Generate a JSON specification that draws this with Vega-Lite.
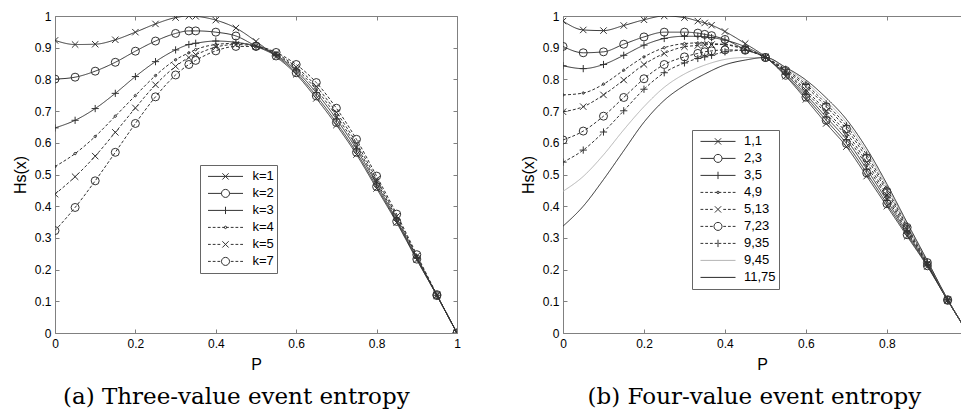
{
  "$schema": "https://vega.github.io/schema/vega-lite/v6.json",
  "background": "white",
  "padding": {"left": 12, "top": 10, "right": 0, "bottom": 0},
  "spacing": 59,
  "config": {
    "view": {"stroke": null},
    "font": "Liberation Sans",
    "axis": {
      "grid": false, "domainColor": "#808080", "tickColor": "#808080", "tickSize": -4,
      "labelColor": "#000", "labelFont": "Liberation Sans", "labelFontSize": 12, "labelFlush": false,
      "titleFont": "Liberation Sans", "titleFontSize": 16, "titleFontWeight": "normal", "titleColor": "#000",
      "domainWidth": 1, "tickWidth": 1, "labelOverlap": false
    },
    "title": {"font": "DejaVu Serif", "fontSize": 23, "fontWeight": "normal", "color": "#000", "orient": "bottom", "anchor": "middle", "offset": 14, "frame": "bounds"}
  },
  "resolve": {"scale": {"x": "independent", "y": "independent", "shape": "independent", "strokeDash": "independent", "color": "independent"}, "legend": {"shape": "independent", "color": "independent"}},
  "datasets": {
    "three": [
      {"P":0,"H":0.923,"s":"k=1"},{"P":0.05,"H":0.910,"s":"k=1"},{"P":0.1,"H":0.911,"s":"k=1"},{"P":0.15,"H":0.925,"s":"k=1"},{"P":0.2,"H":0.949,"s":"k=1"},{"P":0.25,"H":0.975,"s":"k=1"},{"P":0.3,"H":0.995,"s":"k=1"},{"P":0.333,"H":1.0,"s":"k=1"},{"P":0.35,"H":0.999,"s":"k=1"},{"P":0.4,"H":0.987,"s":"k=1"},{"P":0.45,"H":0.962,"s":"k=1"},{"P":0.5,"H":0.920,"s":"k=1"},{"P":0.55,"H":0.872,"s":"k=1"},{"P":0.6,"H":0.816,"s":"k=1"},{"P":0.65,"H":0.740,"s":"k=1"},{"P":0.7,"H":0.656,"s":"k=1"},{"P":0.75,"H":0.563,"s":"k=1"},{"P":0.8,"H":0.456,"s":"k=1"},{"P":0.85,"H":0.348,"s":"k=1"},{"P":0.9,"H":0.231,"s":"k=1"},{"P":0.95,"H":0.118,"s":"k=1"},{"P":1,"H":0,"s":"k=1"},
      {"P":0,"H":0.801,"s":"k=2"},{"P":0.05,"H":0.807,"s":"k=2"},{"P":0.1,"H":0.826,"s":"k=2"},{"P":0.15,"H":0.854,"s":"k=2"},{"P":0.2,"H":0.889,"s":"k=2"},{"P":0.25,"H":0.921,"s":"k=2"},{"P":0.3,"H":0.945,"s":"k=2"},{"P":0.333,"H":0.953,"s":"k=2"},{"P":0.35,"H":0.953,"s":"k=2"},{"P":0.4,"H":0.949,"s":"k=2"},{"P":0.45,"H":0.937,"s":"k=2"},{"P":0.5,"H":0.905,"s":"k=2"},{"P":0.55,"H":0.874,"s":"k=2"},{"P":0.6,"H":0.821,"s":"k=2"},{"P":0.65,"H":0.748,"s":"k=2"},{"P":0.7,"H":0.664,"s":"k=2"},{"P":0.75,"H":0.570,"s":"k=2"},{"P":0.8,"H":0.462,"s":"k=2"},{"P":0.85,"H":0.352,"s":"k=2"},{"P":0.9,"H":0.233,"s":"k=2"},{"P":0.95,"H":0.118,"s":"k=2"},{"P":1,"H":0,"s":"k=2"},
      {"P":0,"H":0.647,"s":"k=3"},{"P":0.05,"H":0.671,"s":"k=3"},{"P":0.1,"H":0.708,"s":"k=3"},{"P":0.15,"H":0.756,"s":"k=3"},{"P":0.2,"H":0.809,"s":"k=3"},{"P":0.25,"H":0.856,"s":"k=3"},{"P":0.3,"H":0.893,"s":"k=3"},{"P":0.333,"H":0.910,"s":"k=3"},{"P":0.35,"H":0.914,"s":"k=3"},{"P":0.4,"H":0.921,"s":"k=3"},{"P":0.45,"H":0.917,"s":"k=3"},{"P":0.5,"H":0.905,"s":"k=3"},{"P":0.55,"H":0.877,"s":"k=3"},{"P":0.6,"H":0.827,"s":"k=3"},{"P":0.65,"H":0.758,"s":"k=3"},{"P":0.7,"H":0.675,"s":"k=3"},{"P":0.75,"H":0.580,"s":"k=3"},{"P":0.8,"H":0.470,"s":"k=3"},{"P":0.85,"H":0.357,"s":"k=3"},{"P":0.9,"H":0.237,"s":"k=3"},{"P":0.95,"H":0.119,"s":"k=3"},{"P":1,"H":0,"s":"k=3"},
      {"P":0,"H":0.525,"s":"k=4"},{"P":0.05,"H":0.566,"s":"k=4"},{"P":0.1,"H":0.620,"s":"k=4"},{"P":0.15,"H":0.684,"s":"k=4"},{"P":0.2,"H":0.749,"s":"k=4"},{"P":0.25,"H":0.812,"s":"k=4"},{"P":0.3,"H":0.862,"s":"k=4"},{"P":0.333,"H":0.884,"s":"k=4"},{"P":0.35,"H":0.894,"s":"k=4"},{"P":0.4,"H":0.910,"s":"k=4"},{"P":0.45,"H":0.914,"s":"k=4"},{"P":0.5,"H":0.905,"s":"k=4"},{"P":0.55,"H":0.879,"s":"k=4"},{"P":0.6,"H":0.833,"s":"k=4"},{"P":0.65,"H":0.768,"s":"k=4"},{"P":0.7,"H":0.685,"s":"k=4"},{"P":0.75,"H":0.589,"s":"k=4"},{"P":0.8,"H":0.477,"s":"k=4"},{"P":0.85,"H":0.363,"s":"k=4"},{"P":0.9,"H":0.240,"s":"k=4"},{"P":0.95,"H":0.119,"s":"k=4"},{"P":1,"H":0,"s":"k=4"},
      {"P":0,"H":0.438,"s":"k=5"},{"P":0.05,"H":0.493,"s":"k=5"},{"P":0.1,"H":0.558,"s":"k=5"},{"P":0.15,"H":0.633,"s":"k=5"},{"P":0.2,"H":0.710,"s":"k=5"},{"P":0.25,"H":0.783,"s":"k=5"},{"P":0.3,"H":0.841,"s":"k=5"},{"P":0.333,"H":0.869,"s":"k=5"},{"P":0.35,"H":0.878,"s":"k=5"},{"P":0.4,"H":0.902,"s":"k=5"},{"P":0.45,"H":0.910,"s":"k=5"},{"P":0.5,"H":0.905,"s":"k=5"},{"P":0.55,"H":0.882,"s":"k=5"},{"P":0.6,"H":0.839,"s":"k=5"},{"P":0.65,"H":0.778,"s":"k=5"},{"P":0.7,"H":0.696,"s":"k=5"},{"P":0.75,"H":0.599,"s":"k=5"},{"P":0.8,"H":0.485,"s":"k=5"},{"P":0.85,"H":0.368,"s":"k=5"},{"P":0.9,"H":0.243,"s":"k=5"},{"P":0.95,"H":0.120,"s":"k=5"},{"P":1,"H":0,"s":"k=5"},
      {"P":0,"H":0.323,"s":"k=7"},{"P":0.05,"H":0.396,"s":"k=7"},{"P":0.1,"H":0.480,"s":"k=7"},{"P":0.15,"H":0.570,"s":"k=7"},{"P":0.2,"H":0.661,"s":"k=7"},{"P":0.25,"H":0.745,"s":"k=7"},{"P":0.3,"H":0.814,"s":"k=7"},{"P":0.333,"H":0.847,"s":"k=7"},{"P":0.35,"H":0.860,"s":"k=7"},{"P":0.4,"H":0.890,"s":"k=7"},{"P":0.45,"H":0.904,"s":"k=7"},{"P":0.5,"H":0.904,"s":"k=7"},{"P":0.55,"H":0.885,"s":"k=7"},{"P":0.6,"H":0.847,"s":"k=7"},{"P":0.65,"H":0.790,"s":"k=7"},{"P":0.7,"H":0.709,"s":"k=7"},{"P":0.75,"H":0.611,"s":"k=7"},{"P":0.8,"H":0.495,"s":"k=7"},{"P":0.85,"H":0.375,"s":"k=7"},{"P":0.9,"H":0.247,"s":"k=7"},{"P":0.95,"H":0.121,"s":"k=7"},{"P":1,"H":0,"s":"k=7"}
    ],
    "four": [
      {"P":0,"H":0.984,"s":"1,1"},{"P":0.05,"H":0.956,"s":"1,1"},{"P":0.1,"H":0.954,"s":"1,1"},{"P":0.15,"H":0.970,"s":"1,1"},{"P":0.2,"H":0.988,"s":"1,1"},{"P":0.25,"H":1.0,"s":"1,1"},{"P":0.3,"H":0.995,"s":"1,1"},{"P":0.333,"H":0.984,"s":"1,1"},{"P":0.35,"H":0.978,"s":"1,1"},{"P":0.367,"H":0.971,"s":"1,1"},{"P":0.4,"H":0.951,"s":"1,1"},{"P":0.45,"H":0.913,"s":"1,1"},{"P":0.5,"H":0.871,"s":"1,1"},{"P":0.55,"H":0.810,"s":"1,1"},{"P":0.6,"H":0.737,"s":"1,1"},{"P":0.65,"H":0.661,"s":"1,1"},{"P":0.7,"H":0.588,"s":"1,1"},{"P":0.75,"H":0.495,"s":"1,1"},{"P":0.8,"H":0.400,"s":"1,1"},{"P":0.85,"H":0.305,"s":"1,1"},{"P":0.9,"H":0.210,"s":"1,1"},{"P":0.95,"H":0.103,"s":"1,1"},{"P":1,"H":0,"s":"1,1"},
      {"P":0,"H":0.904,"s":"2,3"},{"P":0.05,"H":0.884,"s":"2,3"},{"P":0.1,"H":0.887,"s":"2,3"},{"P":0.15,"H":0.911,"s":"2,3"},{"P":0.2,"H":0.934,"s":"2,3"},{"P":0.25,"H":0.949,"s":"2,3"},{"P":0.3,"H":0.949,"s":"2,3"},{"P":0.333,"H":0.946,"s":"2,3"},{"P":0.35,"H":0.942,"s":"2,3"},{"P":0.367,"H":0.938,"s":"2,3"},{"P":0.4,"H":0.926,"s":"2,3"},{"P":0.45,"H":0.894,"s":"2,3"},{"P":0.5,"H":0.869,"s":"2,3"},{"P":0.55,"H":0.813,"s":"2,3"},{"P":0.6,"H":0.744,"s":"2,3"},{"P":0.65,"H":0.671,"s":"2,3"},{"P":0.7,"H":0.598,"s":"2,3"},{"P":0.75,"H":0.505,"s":"2,3"},{"P":0.8,"H":0.408,"s":"2,3"},{"P":0.85,"H":0.310,"s":"2,3"},{"P":0.9,"H":0.212,"s":"2,3"},{"P":0.95,"H":0.103,"s":"2,3"},{"P":1,"H":0,"s":"2,3"},
      {"P":0,"H":0.843,"s":"3,5"},{"P":0.05,"H":0.834,"s":"3,5"},{"P":0.1,"H":0.847,"s":"3,5"},{"P":0.15,"H":0.876,"s":"3,5"},{"P":0.2,"H":0.908,"s":"3,5"},{"P":0.25,"H":0.929,"s":"3,5"},{"P":0.3,"H":0.936,"s":"3,5"},{"P":0.333,"H":0.936,"s":"3,5"},{"P":0.35,"H":0.934,"s":"3,5"},{"P":0.367,"H":0.932,"s":"3,5"},{"P":0.4,"H":0.924,"s":"3,5"},{"P":0.45,"H":0.903,"s":"3,5"},{"P":0.5,"H":0.869,"s":"3,5"},{"P":0.55,"H":0.817,"s":"3,5"},{"P":0.6,"H":0.752,"s":"3,5"},{"P":0.65,"H":0.681,"s":"3,5"},{"P":0.7,"H":0.610,"s":"3,5"},{"P":0.75,"H":0.517,"s":"3,5"},{"P":0.8,"H":0.418,"s":"3,5"},{"P":0.85,"H":0.316,"s":"3,5"},{"P":0.9,"H":0.215,"s":"3,5"},{"P":0.95,"H":0.104,"s":"3,5"},{"P":1,"H":0,"s":"3,5"},
      {"P":0,"H":0.751,"s":"4,9"},{"P":0.05,"H":0.757,"s":"4,9"},{"P":0.1,"H":0.785,"s":"4,9"},{"P":0.15,"H":0.829,"s":"4,9"},{"P":0.2,"H":0.871,"s":"4,9"},{"P":0.25,"H":0.900,"s":"4,9"},{"P":0.3,"H":0.913,"s":"4,9"},{"P":0.333,"H":0.915,"s":"4,9"},{"P":0.35,"H":0.915,"s":"4,9"},{"P":0.367,"H":0.913,"s":"4,9"},{"P":0.4,"H":0.910,"s":"4,9"},{"P":0.45,"H":0.894,"s":"4,9"},{"P":0.5,"H":0.869,"s":"4,9"},{"P":0.55,"H":0.821,"s":"4,9"},{"P":0.6,"H":0.760,"s":"4,9"},{"P":0.65,"H":0.692,"s":"4,9"},{"P":0.7,"H":0.621,"s":"4,9"},{"P":0.75,"H":0.528,"s":"4,9"},{"P":0.8,"H":0.427,"s":"4,9"},{"P":0.85,"H":0.321,"s":"4,9"},{"P":0.9,"H":0.217,"s":"4,9"},{"P":0.95,"H":0.104,"s":"4,9"},{"P":1,"H":0,"s":"4,9"},
      {"P":0,"H":0.698,"s":"5,13"},{"P":0.05,"H":0.714,"s":"5,13"},{"P":0.1,"H":0.751,"s":"5,13"},{"P":0.15,"H":0.798,"s":"5,13"},{"P":0.2,"H":0.847,"s":"5,13"},{"P":0.25,"H":0.882,"s":"5,13"},{"P":0.3,"H":0.903,"s":"5,13"},{"P":0.333,"H":0.907,"s":"5,13"},{"P":0.35,"H":0.909,"s":"5,13"},{"P":0.367,"H":0.910,"s":"5,13"},{"P":0.4,"H":0.910,"s":"5,13"},{"P":0.45,"H":0.896,"s":"5,13"},{"P":0.5,"H":0.869,"s":"5,13"},{"P":0.55,"H":0.824,"s":"5,13"},{"P":0.6,"H":0.767,"s":"5,13"},{"P":0.65,"H":0.701,"s":"5,13"},{"P":0.7,"H":0.631,"s":"5,13"},{"P":0.75,"H":0.539,"s":"5,13"},{"P":0.8,"H":0.435,"s":"5,13"},{"P":0.85,"H":0.327,"s":"5,13"},{"P":0.9,"H":0.219,"s":"5,13"},{"P":0.95,"H":0.105,"s":"5,13"},{"P":1,"H":0,"s":"5,13"},
      {"P":0,"H":0.609,"s":"7,23"},{"P":0.05,"H":0.637,"s":"7,23"},{"P":0.1,"H":0.684,"s":"7,23"},{"P":0.15,"H":0.743,"s":"7,23"},{"P":0.2,"H":0.802,"s":"7,23"},{"P":0.25,"H":0.847,"s":"7,23"},{"P":0.3,"H":0.871,"s":"7,23"},{"P":0.333,"H":0.882,"s":"7,23"},{"P":0.35,"H":0.887,"s":"7,23"},{"P":0.367,"H":0.890,"s":"7,23"},{"P":0.4,"H":0.893,"s":"7,23"},{"P":0.45,"H":0.892,"s":"7,23"},{"P":0.5,"H":0.869,"s":"7,23"},{"P":0.55,"H":0.828,"s":"7,23"},{"P":0.6,"H":0.777,"s":"7,23"},{"P":0.65,"H":0.714,"s":"7,23"},{"P":0.7,"H":0.644,"s":"7,23"},{"P":0.75,"H":0.552,"s":"7,23"},{"P":0.8,"H":0.446,"s":"7,23"},{"P":0.85,"H":0.333,"s":"7,23"},{"P":0.9,"H":0.222,"s":"7,23"},{"P":0.95,"H":0.105,"s":"7,23"},{"P":1,"H":0,"s":"7,23"},
      {"P":0,"H":0.539,"s":"9,35"},{"P":0.05,"H":0.577,"s":"9,35"},{"P":0.1,"H":0.634,"s":"9,35"},{"P":0.15,"H":0.701,"s":"9,35"},{"P":0.2,"H":0.769,"s":"9,35"},{"P":0.25,"H":0.821,"s":"9,35"},{"P":0.3,"H":0.852,"s":"9,35"},{"P":0.333,"H":0.866,"s":"9,35"},{"P":0.35,"H":0.871,"s":"9,35"},{"P":0.367,"H":0.876,"s":"9,35"},{"P":0.4,"H":0.887,"s":"9,35"},{"P":0.45,"H":0.892,"s":"9,35"},{"P":0.5,"H":0.869,"s":"9,35"},{"P":0.55,"H":0.832,"s":"9,35"},{"P":0.6,"H":0.784,"s":"9,35"},{"P":0.65,"H":0.723,"s":"9,35"},{"P":0.7,"H":0.654,"s":"9,35"},{"P":0.75,"H":0.562,"s":"9,35"},{"P":0.8,"H":0.454,"s":"9,35"},{"P":0.85,"H":0.338,"s":"9,35"},{"P":0.9,"H":0.224,"s":"9,35"},{"P":0.95,"H":0.105,"s":"9,35"},{"P":1,"H":0,"s":"9,35"},
      {"P":0,"H":0.447,"s":"9,45"},{"P":0.05,"H":0.494,"s":"9,45"},{"P":0.1,"H":0.562,"s":"9,45"},{"P":0.15,"H":0.641,"s":"9,45"},{"P":0.2,"H":0.714,"s":"9,45"},{"P":0.25,"H":0.775,"s":"9,45"},{"P":0.3,"H":0.817,"s":"9,45"},{"P":0.35,"H":0.845,"s":"9,45"},{"P":0.4,"H":0.863,"s":"9,45"},{"P":0.45,"H":0.869,"s":"9,45"},{"P":0.5,"H":0.869,"s":"9,45"},{"P":0.55,"H":0.835,"s":"9,45"},{"P":0.6,"H":0.791,"s":"9,45"},{"P":0.65,"H":0.732,"s":"9,45"},{"P":0.7,"H":0.664,"s":"9,45"},{"P":0.75,"H":0.572,"s":"9,45"},{"P":0.8,"H":0.462,"s":"9,45"},{"P":0.85,"H":0.343,"s":"9,45"},{"P":0.9,"H":0.226,"s":"9,45"},{"P":0.95,"H":0.106,"s":"9,45"},{"P":1,"H":0,"s":"9,45"},
      {"P":0,"H":0.337,"s":"11,75"},{"P":0.05,"H":0.400,"s":"11,75"},{"P":0.1,"H":0.484,"s":"11,75"},{"P":0.15,"H":0.575,"s":"11,75"},{"P":0.2,"H":0.665,"s":"11,75"},{"P":0.25,"H":0.734,"s":"11,75"},{"P":0.3,"H":0.781,"s":"11,75"},{"P":0.35,"H":0.817,"s":"11,75"},{"P":0.4,"H":0.846,"s":"11,75"},{"P":0.45,"H":0.861,"s":"11,75"},{"P":0.5,"H":0.869,"s":"11,75"},{"P":0.55,"H":0.838,"s":"11,75"},{"P":0.6,"H":0.798,"s":"11,75"},{"P":0.65,"H":0.742,"s":"11,75"},{"P":0.7,"H":0.674,"s":"11,75"},{"P":0.75,"H":0.582,"s":"11,75"},{"P":0.8,"H":0.470,"s":"11,75"},{"P":0.85,"H":0.348,"s":"11,75"},{"P":0.9,"H":0.228,"s":"11,75"},{"P":0.95,"H":0.106,"s":"11,75"},{"P":1,"H":0,"s":"11,75"}
    ]
  },
  "hconcat": [
    {
      "width": 402, "height": 317,
      "title": {"text": "(a) Three-value event entropy", "frame": "bounds"},
      "data": {"name": "three"},
      "layer": [
        {
          "mark": {"type": "line", "interpolate": "monotone", "strokeWidth": 1, "color": "#333", "clip": true},
          "encoding": {
            "x": {"field": "P", "type": "quantitative", "scale": {"domain": [0, 1], "nice": false, "zero": false},
                  "axis": {"values": [0, 0.2, 0.4, 0.6, 0.8, 1], "format": "~g", "title": "P", "labelPadding": 9, "titlePadding": 7}},
            "y": {"field": "H", "type": "quantitative", "scale": {"domain": [0, 1], "nice": false},
                  "axis": {"values": [0, 0.1, 0.2, 0.3, 0.4, 0.5, 0.6, 0.7, 0.8, 0.9, 1], "format": "~g", "title": "Hs(x)", "labelPadding": 8, "titlePadding": 6}},
            "detail": {"field": "s"},
            "strokeDash": {"field": "s", "type": "nominal", "scale": {"domain": ["k=1","k=2","k=3","k=4","k=5","k=7"], "range": [[1,0],[1,0],[1,0],[3,2],[3,2],[3,2]]}, "legend": null}
          }
        },
        {
          "mark": {"type": "point", "filled": false, "color": "#333", "size": 64, "strokeWidth": 1, "opacity": 1, "clip": true},
          "encoding": {
            "x": {"field": "P", "type": "quantitative", "axis": {"orient": "top", "values": [0, 0.2, 0.4, 0.6, 0.8, 1], "labels": false, "title": null}},
            "y": {"field": "H", "type": "quantitative", "axis": {"orient": "right", "values": [0, 0.1, 0.2, 0.3, 0.4, 0.5, 0.6, 0.7, 0.8, 0.9, 1], "labels": false, "title": null}},
            "shape": {"field": "s", "type": "nominal", "legend": null, "scale": {"domain": ["k=1","k=2","k=3","k=4","k=5","k=7"],
              "range": ["M-0.8,-0.8L0.8,0.8M-0.8,0.8L0.8,-0.8", "circle", "M-0.9,0L0.9,0M0,-0.9L0,0.9", "M0.3,0A0.3,0.3 0 1,1 -0.3,0A0.3,0.3 0 1,1 0.3,0Z", "M-0.8,-0.8L0.8,0.8M-0.8,0.8L0.8,-0.8", "circle"]}}
          }
        },
        {
          "mark": {"type": "point", "filled": false, "color": "#333", "opacity": 0},
          "encoding": {
            "x": {"field": "P", "type": "quantitative", "axis": null},
            "y": {"field": "H", "type": "quantitative", "axis": null},
            "shape": {"field": "s", "type": "nominal",
              "scale": {"domain": ["k=1","k=2","k=3","k=4","k=5","k=7"],
                "range": [
                  "M-1,0L1,0M-0.18,-0.18L0.18,0.18M-0.18,0.18L0.18,-0.18",
                  "M-1,0L-0.23,0M0.23,0L1,0M0.23,0A0.23,0.23 0 1,1 -0.23,0A0.23,0.23 0 1,1 0.23,0",
                  "M-1,0L1,0M0,-0.21L0,0.21",
                  "M-1,0L-0.84,0M-0.73,0L-0.57,0M-0.46,0L-0.3,0M-0.19,0L-0.03,0M0.03,0L0.19,0M0.3,0L0.46,0M0.57,0L0.73,0M0.84,0L1,0M0.07,0A0.07,0.07 0 1,1 -0.07,0A0.07,0.07 0 1,1 0.07,0",
                  "M-1,0L-0.84,0M-0.73,0L-0.57,0M-0.46,0L-0.3,0M0.3,0L0.46,0M0.57,0L0.73,0M0.84,0L1,0M-0.18,-0.18L0.18,0.18M-0.18,0.18L0.18,-0.18",
                  "M-1,0L-0.84,0M-0.73,0L-0.57,0M-0.46,0L-0.3,0M0.3,0L0.46,0M0.57,0L0.73,0M0.84,0L1,0M0.23,0A0.23,0.23 0 1,1 -0.23,0A0.23,0.23 0 1,1 0.23,0"
                ]},
              "legend": {"orient": "none", "legendX": 145, "legendY": 149, "title": null, "symbolSize": 1225, "clipHeight": 16.8, "rowPadding": 0,
                "padding": 3, "symbolOffset": 4.5, "labelOffset": 9, "labelFontSize": 13, "labelFont": "Liberation Sans", "labelColor": "#000",
                "strokeColor": "#666", "fillColor": "#fff", "symbolStrokeWidth": 1, "symbolStrokeColor": "#333", "symbolOpacity": 1,
                "encode": {"symbols": {"update": {"fill": {"value": "transparent"}}}}}
            }
          }
        }
      ],
      "resolve": {"axis": {"x": "independent", "y": "independent"}, "scale": {"shape": "independent"}, "legend": {"shape": "independent"}}
    },
    {
      "width": 398, "height": 317,
      "title": {"text": "(b) Four-value event entropy", "frame": "bounds", "dx": 9},
      "data": {"name": "four"},
      "layer": [
        {
          "mark": {"type": "line", "interpolate": "monotone", "strokeWidth": 1, "clip": true},
          "encoding": {
            "x": {"field": "P", "type": "quantitative", "scale": {"domain": [0, 0.983], "nice": false, "zero": false},
                  "axis": {"values": [0, 0.2, 0.4, 0.6, 0.8], "format": "~g", "title": "P", "labelPadding": 9, "titlePadding": 7}},
            "y": {"field": "H", "type": "quantitative", "scale": {"domain": [0, 1], "nice": false},
                  "axis": {"values": [0, 0.1, 0.2, 0.3, 0.4, 0.5, 0.6, 0.7, 0.8, 0.9, 1], "format": "~g", "title": "Hs(x)", "labelPadding": 8, "titlePadding": 6}},
            "detail": {"field": "s"},
            "color": {"field": "s", "type": "nominal", "legend": null, "scale": {"domain": ["1,1","2,3","3,5","4,9","5,13","7,23","9,35","9,45","11,75"], "range": ["#333","#333","#333","#333","#333","#333","#333","#b4b4b4","#2a2a2a"]}},
            "strokeDash": {"field": "s", "type": "nominal", "legend": null, "scale": {"domain": ["1,1","2,3","3,5","4,9","5,13","7,23","9,35","9,45","11,75"], "range": [[1,0],[1,0],[1,0],[3,2],[3,2],[3,2],[3,2],[1,0],[1,0]]}}
          }
        },
        {
          "transform": [{"filter": "datum.s !== '9,45' && datum.s !== '11,75'"}],
          "mark": {"type": "point", "filled": false, "color": "#333", "size": 64, "strokeWidth": 1, "opacity": 1, "clip": true},
          "encoding": {
            "x": {"field": "P", "type": "quantitative", "axis": {"orient": "top", "values": [0, 0.2, 0.4, 0.6, 0.8], "labels": false, "title": null}},
            "y": {"field": "H", "type": "quantitative", "axis": null},
            "shape": {"field": "s", "type": "nominal", "legend": null, "scale": {"domain": ["1,1","2,3","3,5","4,9","5,13","7,23","9,35"],
              "range": ["M-0.8,-0.8L0.8,0.8M-0.8,0.8L0.8,-0.8", "circle", "M-0.9,0L0.9,0M0,-0.9L0,0.9", "M0.3,0A0.3,0.3 0 1,1 -0.3,0A0.3,0.3 0 1,1 0.3,0Z", "M-0.8,-0.8L0.8,0.8M-0.8,0.8L0.8,-0.8", "circle", "M-0.9,0L0.9,0M0,-0.9L0,0.9"]}}
          }
        },
        {
          "mark": {"type": "point", "filled": false, "opacity": 0},
          "encoding": {
            "x": {"field": "P", "type": "quantitative", "axis": null},
            "y": {"field": "H", "type": "quantitative", "axis": null},
            "color": {"field": "s", "type": "nominal",
              "scale": {"domain": ["1,1","2,3","3,5","4,9","5,13","7,23","9,35","9,45","11,75"], "range": ["#333","#333","#333","#333","#333","#333","#333","#b4b4b4","#2a2a2a"]},
              "legend": {"orient": "none", "legendX": 129, "legendY": 114, "title": null, "symbolSize": 1225, "clipHeight": 16.8, "rowPadding": 0,
                "padding": 3, "symbolOffset": 5, "labelOffset": 8, "labelFontSize": 13, "labelFont": "Liberation Sans", "labelColor": "#000",
                "strokeColor": "#666", "fillColor": "#fff", "symbolStrokeWidth": 1, "symbolOpacity": 1}},
            "shape": {"field": "s", "type": "nominal",
              "scale": {"domain": ["1,1","2,3","3,5","4,9","5,13","7,23","9,35","9,45","11,75"],
                "range": [
                  "M-1,0L1,0M-0.18,-0.18L0.18,0.18M-0.18,0.18L0.18,-0.18",
                  "M-1,0L-0.23,0M0.23,0L1,0M0.23,0A0.23,0.23 0 1,1 -0.23,0A0.23,0.23 0 1,1 0.23,0",
                  "M-1,0L1,0M0,-0.21L0,0.21",
                  "M-1,0L-0.84,0M-0.73,0L-0.57,0M-0.46,0L-0.3,0M-0.19,0L-0.03,0M0.03,0L0.19,0M0.3,0L0.46,0M0.57,0L0.73,0M0.84,0L1,0M0.07,0A0.07,0.07 0 1,1 -0.07,0A0.07,0.07 0 1,1 0.07,0",
                  "M-1,0L-0.84,0M-0.73,0L-0.57,0M-0.46,0L-0.3,0M0.3,0L0.46,0M0.57,0L0.73,0M0.84,0L1,0M-0.18,-0.18L0.18,0.18M-0.18,0.18L0.18,-0.18",
                  "M-1,0L-0.84,0M-0.73,0L-0.57,0M-0.46,0L-0.3,0M0.3,0L0.46,0M0.57,0L0.73,0M0.84,0L1,0M0.23,0A0.23,0.23 0 1,1 -0.23,0A0.23,0.23 0 1,1 0.23,0",
                  "M-1,0L-0.84,0M-0.73,0L-0.57,0M-0.46,0L-0.3,0M-0.19,0L-0.03,0M0.03,0L0.19,0M0.3,0L0.46,0M0.57,0L0.73,0M0.84,0L1,0M0,-0.21L0,0.21",
                  "M-1,0L1,0",
                  "M-1,0L1,0"
                ]},
              "legend": {"orient": "none", "legendX": 129, "legendY": 114, "title": null, "symbolSize": 1225, "clipHeight": 16.8, "rowPadding": 0,
                "padding": 3, "symbolOffset": 5, "labelOffset": 8, "labelFontSize": 13, "labelFont": "Liberation Sans", "labelColor": "#000",
                "strokeColor": "#666", "fillColor": "#fff", "symbolStrokeWidth": 1, "symbolOpacity": 1,
                "encode": {"symbols": {"update": {"fill": {"value": "transparent"}}}}}
            }
          }
        }
      ],
      "resolve": {"axis": {"x": "independent", "y": "independent"}, "scale": {"shape": "independent", "color": "independent"}, "legend": {"shape": "independent", "color": "independent"}}
    }
  ]
}
